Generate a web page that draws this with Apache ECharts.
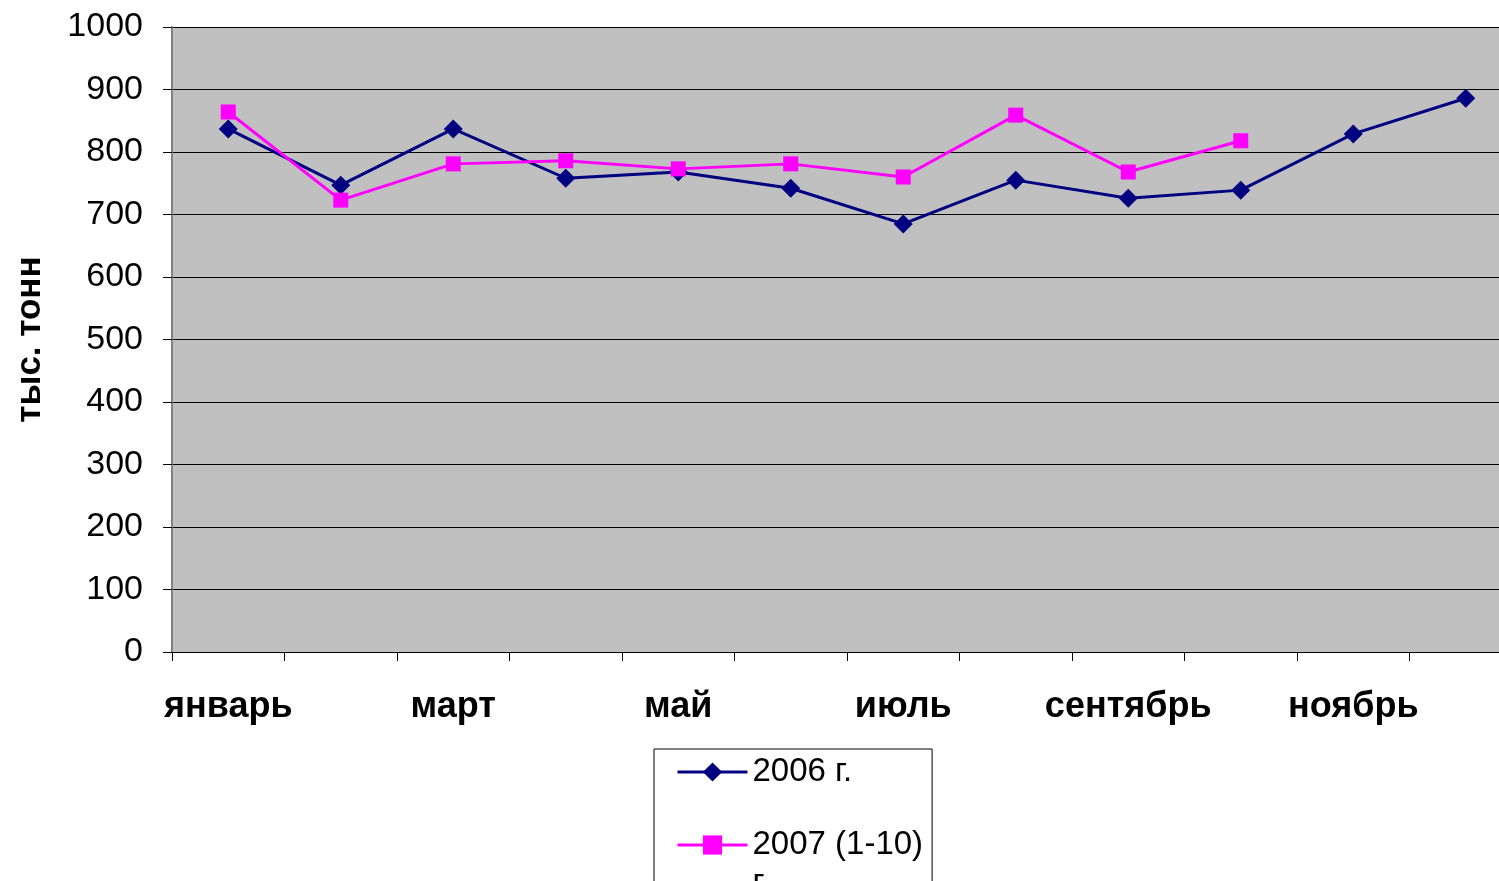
<!DOCTYPE html>
<html>
<head>
<meta charset="utf-8">
<script src="https://cdn.jsdelivr.net/npm/echarts@6/dist/echarts.min.js"></script>
<style>
  html, body { margin: 0; padding: 0; background: #fff; }
  #chart { width: 1499px; height: 881px; }
</style>
</head>
<body>
<div id="chart"></div>
<script>
"use strict";

// месяцы (подписи только у нечётных, как в исходнике)
const MONTHS = ["январь", "февраль", "март", "апрель", "май", "июнь",
  "июль", "август", "сентябрь", "октябрь", "ноябрь", "декабрь"];
const Y2006 = [837, 747, 837, 758, 768, 742, 685, 755, 726, 739, 829, 886];
const Y2007 = [864, 723, 781, 786, 773, 781, 760, 859, 768, 818];
const NAME_2006 = "2006 г.";
const NAME_2007 = "2007 (1-10) г.";
const Y_TITLE = "тыс. тонн";

const FONT = "Liberation Sans, Arial, sans-serif";

const chart = echarts.init(document.getElementById("chart"));
chart.setOption({
  backgroundColor: "#fff",
  animation: false,
  textStyle: { fontFamily: FONT },
  grid: { left: 172, top: 27, width: 1350, height: 625, show: true,
    outerBoundsMode: "none", containLabel: false,
    backgroundColor: "#c0c0c0", borderWidth: 0 },
  legend: {
    orient: "vertical", left: 654, top: 749, height: 400,
    padding: [4, 9, 60, 22],
    itemGap: -3, itemWidth: 70, itemHeight: 24,
    backgroundColor: "#fff", borderColor: "#000", borderWidth: 1, borderRadius: 0,
    lineStyle: { width: 3 },
    data: [NAME_2006, NAME_2007],
    textStyle: { fontSize: 33, color: "#000", lineHeight: 38 },
    // перенос как в Excel: пустая строка сверху держит первую строку у значка
    formatter: n => n === NAME_2007 ? " \n2007 (1-10)\nг." : n,
  },
  xAxis: {
    type: "category", data: MONTHS, boundaryGap: true,
    axisLine: { lineStyle: { color: "#000", width: 1 } },
    axisTick: { show: true, length: 9, interval: 0, lineStyle: { color: "#000" } },
    axisLabel: { interval: 1, margin: 37, fontSize: 36, fontWeight: "bold", color: "#000" },
    splitLine: { show: false },
  },
  yAxis: {
    type: "value", min: 0, max: 1000, interval: 100,
    name: Y_TITLE, nameLocation: "middle", nameGap: 124, nameRotate: 90,
    nameTextStyle: { fontSize: 35, fontWeight: "bold", color: "#000" },
    axisLine: { show: true, lineStyle: { color: "#808080", width: 2 } },
    axisTick: { show: true, length: 9, lineStyle: { color: "#000" } },
    axisLabel: { margin: 29, fontSize: 34, color: "#000", formatter: v => String(v) },
    splitLine: { lineStyle: { color: "#000", width: 1 } },
  },
  series: [
    {
      name: NAME_2006, type: "line", data: Y2006,
      symbol: "diamond", symbolSize: 19,
      lineStyle: { color: "#000080", width: 3 },
      itemStyle: { color: "#000080" },
    },
    {
      name: NAME_2007, type: "line", data: Y2007,
      symbol: "rect", symbolSize: 15,
      lineStyle: { color: "#ff00ff", width: 3 },
      itemStyle: { color: "#ff00ff" },
    },
  ],
});
</script>
</body>
</html>
